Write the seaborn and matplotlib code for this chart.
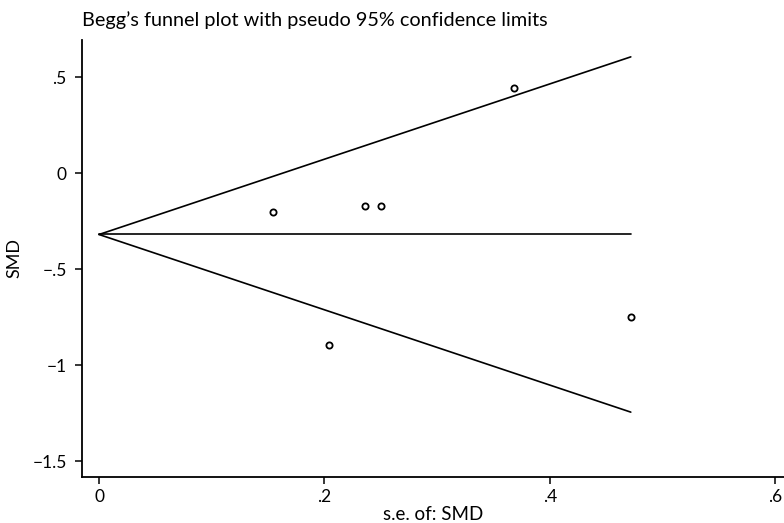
import numpy as np
import pandas as pd
import seaborn as sns
import matplotlib
matplotlib.use("Agg")
import matplotlib.pyplot as plt

# data
se = [0.154, 0.204, 0.236, 0.250, 0.368, 0.472]
smd = [-0.203, -0.896, -0.172, -0.172, 0.443, -0.750]
pooled = -0.32
se_max = 0.472
xticks = [0, 0.2, 0.4, 0.6]
xticklabels = ["0", ".2", ".4", ".6"]
yticks = [-1.5, -1, -0.5, 0, 0.5]
yticklabels = ["\u22121.5", "\u22121", "\u2212.5", "0", ".5"]

sns.set_theme(style="ticks")
plt.rcParams['font.family'] = ['Lato', 'DejaVu Sans']
plt.rcParams['text.color'] = 'black'
plt.rcParams['axes.labelcolor'] = 'black'

fig = plt.figure(figsize=(7.84, 5.23), dpi=100)
ax = fig.add_axes([82/784, 1 - 477/523, (784 - 82)/784, (477 - 40)/523])

df = pd.DataFrame({"se": se, "smd": smd})
sns.scatterplot(data=df, x="se", y="smd", ax=ax, marker="o", s=20,
                facecolor="white", edgecolor="black", linewidth=1.3, zorder=3)

xs = np.array([0, se_max])
ax.plot(xs, pooled + 1.96 * xs, color="black", lw=1.2)
ax.plot(xs, pooled - 1.96 * xs, color="black", lw=1.2)
ax.plot(xs, [pooled, pooled], color="black", lw=1.2)

ax.set_xlim(-0.0151, 0.608)
ax.set_ylim(-1.583, 0.693)
ax.set_xticks(xticks)
ax.set_xticklabels(xticklabels)
ax.set_yticks(yticks)
ax.set_yticklabels(yticklabels)
for s in ["top", "right"]:
    ax.spines[s].set_visible(False)
for s in ["left", "bottom"]:
    ax.spines[s].set_linewidth(1.3)
    ax.spines[s].set_color("black")
ax.tick_params(axis="both", direction="out", length=5, width=1.1, colors="black",
               labelsize=12.5)
ax.tick_params(axis="x", pad=4)
ax.tick_params(axis="y", pad=6)
ax.set_xlabel("s.e. of: SMD", fontsize=13.5, labelpad=0, color="black")
ax.set_ylabel("SMD", fontsize=13, labelpad=7, color="black")
ax.set_title("Begg\u2019s funnel plot with pseudo 95% confidence limits",
             loc="left", fontsize=14.3, pad=10, color="black")

fig.savefig("out.png", dpi=100)
